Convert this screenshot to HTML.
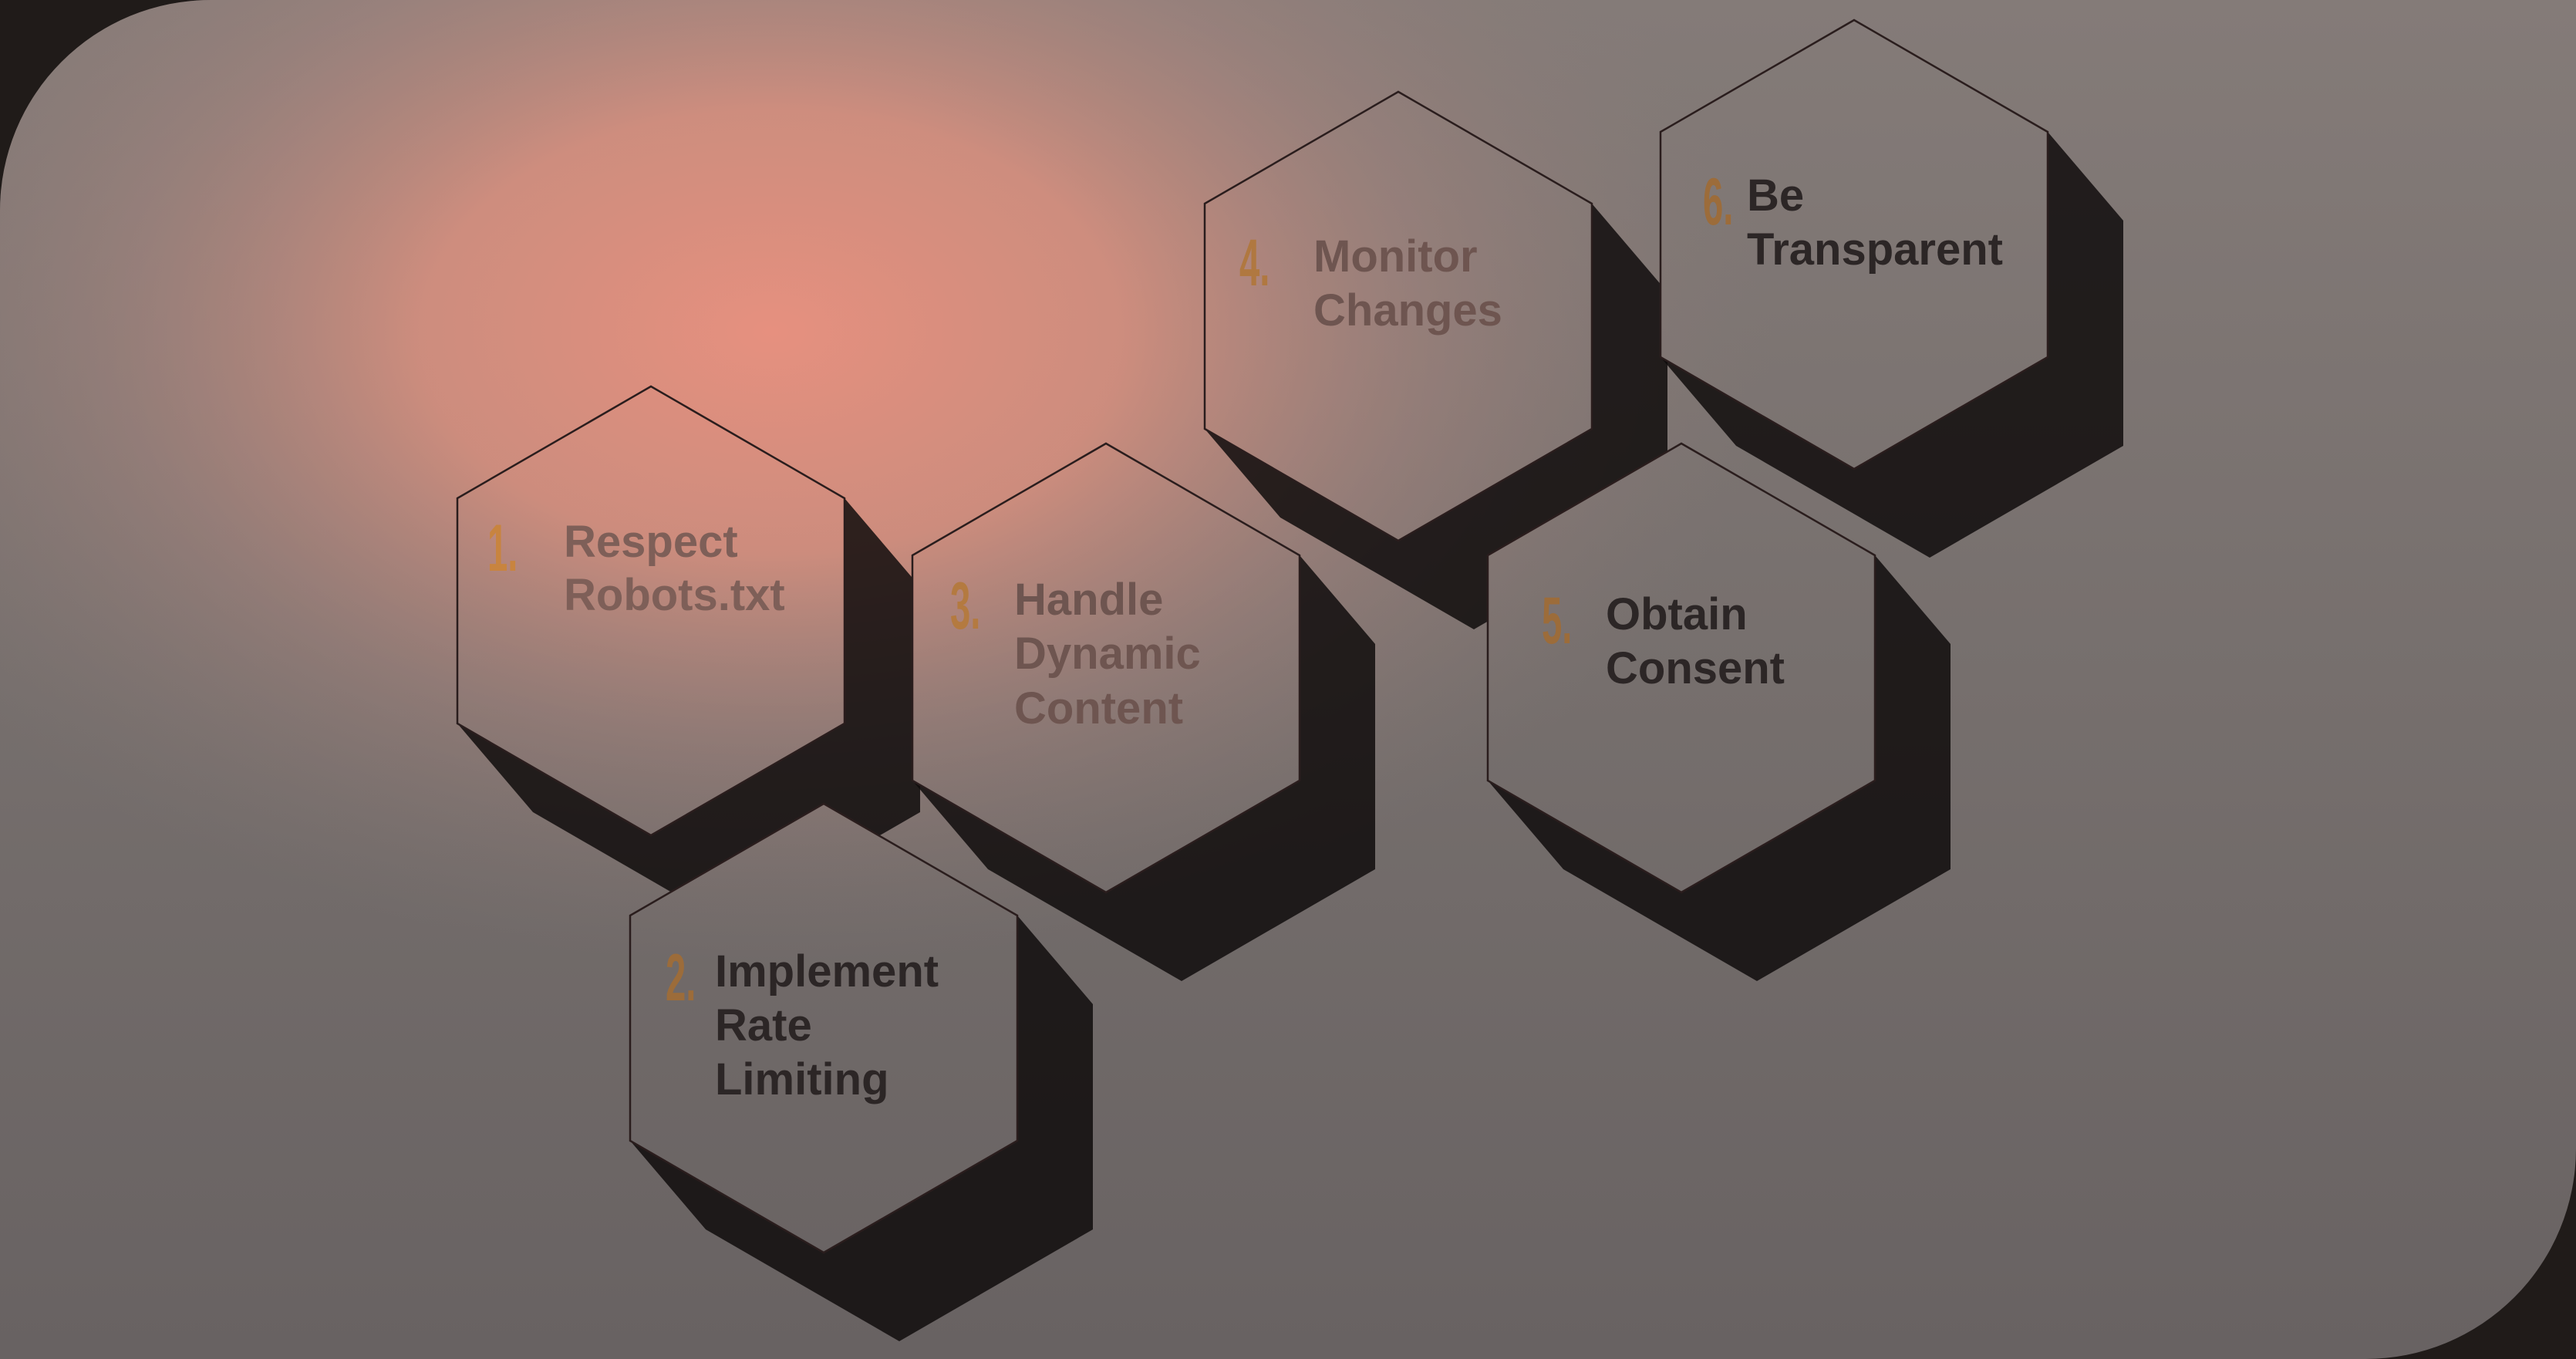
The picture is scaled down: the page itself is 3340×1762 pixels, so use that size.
<!DOCTYPE html>
<html><head><meta charset="utf-8"><style>
html,body{margin:0;padding:0;background:#201b19;}
svg{display:block}
</style></head><body>
<svg width="3340" height="1762" viewBox="0 0 3340 1762" xmlns="http://www.w3.org/2000/svg">
<defs>
<linearGradient id="base" x1="0" y1="0" x2="0" y2="1">
<stop offset="0" stop-color="#847b78"/><stop offset="0.5" stop-color="#766f6d"/><stop offset="1" stop-color="#686262"/>
</linearGradient>
<radialGradient id="glow" cx="1000" cy="430" r="1" gradientUnits="userSpaceOnUse" gradientTransform="translate(1000 430) scale(1300 820) translate(-1000 -430)">
<stop offset="0" stop-color="#e6907f" stop-opacity="1"/>
<stop offset="0.35" stop-color="#d8907f" stop-opacity="0.88"/>
<stop offset="0.65" stop-color="#b08880" stop-opacity="0.45"/>
<stop offset="1" stop-color="#8a7c78" stop-opacity="0"/>
</radialGradient>
<clipPath id="card"><path d="M273 0 H3340 V1489 A273 273 0 0 1 3067 1762 H0 V273 A273 273 0 0 1 273 0Z"/></clipPath>
<mask id="hm">
<rect width="3340" height="1762" fill="#fff"/>
<g fill="#000">
<polygon points="844,501 1095,646 1095,938 844,1083 593,938 593,646"/>
<polygon points="1068,1042 1319,1187 1319,1479 1068,1624 817,1479 817,1187"/>
<polygon points="1434,575 1685,720 1685,1012 1434,1157 1183,1012 1183,720"/>
<polygon points="1813,119 2064,264 2064,556 1813,701 1562,556 1562,264"/>
<polygon points="2180,575 2431,720 2431,1012 2180,1157 1929,1012 1929,720"/>
<polygon points="2404,26 2655,171 2655,463 2404,608 2153,463 2153,171"/>
</g>
</mask>
</defs>
<g clip-path="url(#card)">
<rect width="3340" height="1762" fill="url(#base)"/>
<rect width="3340" height="1762" fill="url(#glow)"/>
</g>
<g mask="url(#hm)" fill="#0e0b0b" fill-opacity="0.84">
<polygon points="844,501 1095,646 1193,761 1193,1053 942,1198 691,1053 593,938 593,646"/>
<polygon points="1068,1042 1319,1187 1417,1302 1417,1594 1166,1739 915,1594 817,1479 817,1187"/>
<polygon points="1434,575 1685,720 1783,835 1783,1127 1532,1272 1281,1127 1183,1012 1183,720"/>
<polygon points="1813,119 2064,264 2162,379 2162,671 1911,816 1660,671 1562,556 1562,264"/>
<polygon points="2180,575 2431,720 2529,835 2529,1127 2278,1272 2027,1127 1929,1012 1929,720"/>
<polygon points="2404,26 2655,171 2753,286 2753,578 2502,723 2251,578 2153,463 2153,171"/>
</g>
<g fill="none" stroke="#2a1d1d" stroke-width="2.5">
<polygon points="844,501 1095,646 1095,938 844,1083 593,938 593,646"/>
<polygon points="1068,1042 1319,1187 1319,1479 1068,1624 817,1479 817,1187"/>
<polygon points="1434,575 1685,720 1685,1012 1434,1157 1183,1012 1183,720"/>
<polygon points="1813,119 2064,264 2064,556 1813,701 1562,556 1562,264"/>
<polygon points="2180,575 2431,720 2431,1012 2180,1157 1929,1012 1929,720"/>
<polygon points="2404,26 2655,171 2655,463 2404,608 2153,463 2153,171"/>
</g>
<g font-family="'Liberation Sans', sans-serif" font-weight="bold" font-size="58">
<text fill="#7e5f58"><tspan x="731" y="722">Respect</tspan><tspan x="731" y="791">Robots.txt</tspan></text>
<text fill="#2c2626"><tspan x="927" y="1279">Implement</tspan><tspan x="927" y="1349">Rate</tspan><tspan x="927" y="1419">Limiting</tspan></text>
<text fill="#6e5550"><tspan x="1315" y="797">Handle</tspan><tspan x="1315" y="867">Dynamic</tspan><tspan x="1315" y="938">Content</tspan></text>
<text fill="#6e5550"><tspan x="1703" y="352">Monitor</tspan><tspan x="1703" y="422">Changes</tspan></text>
<text fill="#2c2626"><tspan x="2082" y="816">Obtain</tspan><tspan x="2082" y="886">Consent</tspan></text>
<text fill="#2c2626"><tspan x="2265" y="273">Be</tspan><tspan x="2265" y="343">Transparent</tspan></text>
</g>
<g font-family="'Liberation Sans', sans-serif" font-size="86" font-weight="bold">
<text transform="translate(632 740) scale(0.55 1)" fill="#c8843f">1.</text>
<text transform="translate(863 1297) scale(0.55 1)" fill="#9c6c3a">2.</text>
<text transform="translate(1232 815) scale(0.55 1)" fill="#b47a40">3.</text>
<text transform="translate(1607 370) scale(0.55 1)" fill="#b07840">4.</text>
<text transform="translate(1999 834) scale(0.55 1)" fill="#9c6c3a">5.</text>
<text transform="translate(2208 291) scale(0.55 1)" fill="#9c6c3a">6.</text>
</g>
</svg>
</body></html>
